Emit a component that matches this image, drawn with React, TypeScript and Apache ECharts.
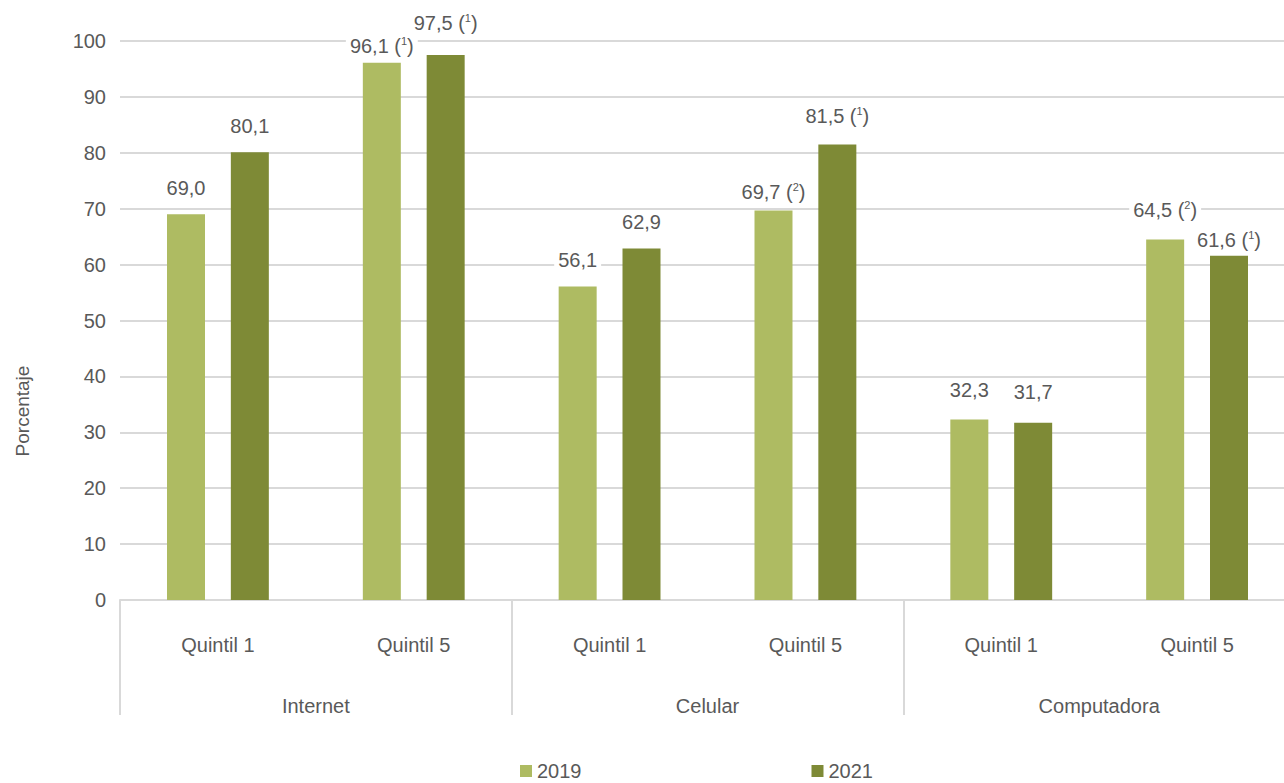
import React, { useEffect, useRef } from "react";
import * as echarts from "echarts";

const groups = ["Internet", "Celular", "Computadora"];
const subCategories = ["Quintil 1", "Quintil 5", "Quintil 1", "Quintil 5", "Quintil 1", "Quintil 5"];
const values2019 = [69.0, 96.1, 56.1, 69.7, 32.3, 64.5];
const values2021 = [80.1, 97.5, 62.9, 81.5, 31.7, 61.6];
const notes2019 = ["", "1", "", "2", "", "2"];
const notes2021 = ["", "1", "", "1", "", "1"];
const yTicks = { min: 0, max: 100, interval: 10 };

// label vertical nudges (px) used to mimic the reference's label placement
const labelShift2019 = [0, 10, 0, 8, -3, -3];
const labelShift2021 = [0, -5, 0, -2, -5, 11];

const C2019 = "#AEBB62";
const C2021 = "#7E8A36";
const TXT = "#595959";
const GRID = "#D9D9D9";
const FONT = "'Liberation Sans', Arial, sans-serif";
const FS = 20;

function fmt(v: number, note: string) {
  const s = v.toFixed(1).replace(".", ",");
  return note ? `{a|${s} (}{s|${note}}{a|)}` : `{a|${s}}`;
}

export default function App() {
  const ref = useRef<HTMLDivElement>(null);
  useEffect(() => {
    const chart = echarts.init(ref.current!, null, { renderer: "svg" });
    const rich = {
      a: { color: TXT, fontSize: FS, fontFamily: FONT },
      s: { color: TXT, fontSize: 11, fontFamily: FONT, padding: [0, 0, 10, 0] },
    };
    const mkData = (vals: number[], shifts: number[]) =>
      vals.map((v, i) => ({ value: v, label: { offset: [0, shifts[i]] } }));
    const labelBase = {
      show: true,
      position: "top" as const,
      distance: 14,
      color: TXT,
      fontSize: FS,
      fontFamily: FONT,
      backgroundColor: "#fff",
      padding: [2, 4],
      rich,
    };
    chart.setOption({
      animation: false,
      textStyle: { fontFamily: FONT },
      grid: { left: 120, right: -11, top: 41, bottom: 183, outerBoundsMode: "none" },
      legend: {
        left: 520,
        top: 761,
        padding: 0,
        itemWidth: 12,
        itemHeight: 12,
        itemGap: 230,
        icon: "rect",
        textStyle: { color: TXT, fontSize: FS, fontFamily: FONT },
        data: ["2019", "2021"],
      },
      xAxis: [
        {
          type: "category",
          data: subCategories,
          axisLine: { show: true, lineStyle: { color: GRID, width: 2 } },
          axisTick: { show: false },
          axisLabel: { color: TXT, fontSize: FS, fontFamily: FONT, margin: 35, interval: 0 },
        },
        {
          type: "category",
          data: groups,
          position: "bottom",
          axisLine: { show: false },
          axisTick: { show: true, length: 115, interval: 0, lineStyle: { color: GRID, width: 2 } },
          axisLabel: { color: TXT, fontSize: FS, fontFamily: FONT, margin: 96, interval: 0 },
        },
      ],
      yAxis: {
        type: "value",
        min: yTicks.min,
        max: yTicks.max,
        interval: yTicks.interval,
        axisLine: { show: false },
        axisTick: { show: false },
        axisLabel: { color: TXT, fontSize: FS, fontFamily: FONT, margin: 14 },
        splitLine: { lineStyle: { color: GRID, width: 2 } },
      },
      graphic: [
        {
          type: "text",
          x: 22,
          y: 411,
          rotation: Math.PI / 2,
          style: {
            text: "Porcentaje",
            fill: TXT,
            fontSize: 19,
            fontFamily: FONT,
            align: "center",
            verticalAlign: "middle",
          },
        },
      ],
      series: [
        {
          name: "2019",
          type: "bar",
          xAxisIndex: 0,
          barWidth: 38,
          barGap: "68%",
          itemStyle: { color: C2019 },
          data: mkData(values2019, labelShift2019),
          label: { ...labelBase, formatter: (p: any) => fmt(p.value, notes2019[p.dataIndex]) },
        },
        {
          name: "2021",
          type: "bar",
          xAxisIndex: 0,
          barWidth: 38,
          barGap: "68%",
          itemStyle: { color: C2021 },
          data: mkData(values2021, labelShift2021),
          label: { ...labelBase, formatter: (p: any) => fmt(p.value, notes2021[p.dataIndex]) },
        },
      ],
    });
    return () => chart.dispose();
  }, []);
  return (
    <div
      ref={ref}
      style={{ position: "fixed", left: 0, top: 0, width: 1284, height: 783, background: "#fff" }}
    />
  );
}
